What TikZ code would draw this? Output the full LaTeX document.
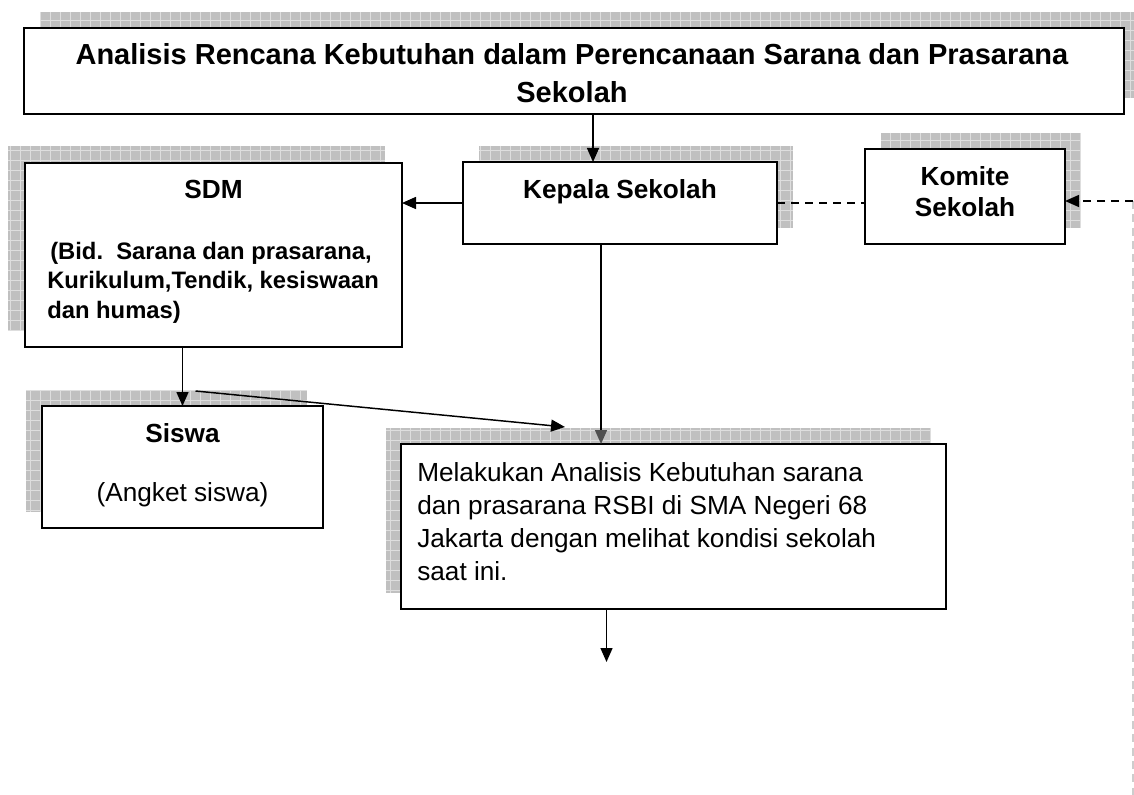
\documentclass[tikz,border=0pt]{standalone}
\usepackage{fontspec}
\setmainfont{Liberation Sans}
\usetikzlibrary{arrows.meta,calc}

\tikzset{
  kotak/.style={draw, fill=white, line width=1.1pt, inner sep=0pt, outer sep=0pt},
  bayangan/.style={fill={rgb, 255:red, 192; green, 192; blue, 192}},
  kisi/.style={draw={rgb, 255:red, 222; green, 222; blue, 222}, line width=0.45pt, step=7.5pt},
  teks/.style={inner sep=0pt, font=\fontsize{19.65}{23.25}\selectfont},
  tebal/.style={inner sep=0pt, font=\bfseries\fontsize{19.65}{23.25}\selectfont},
  panah/.style={line width=1.1pt, -{Triangle[length=10.5pt,width=9pt]}},
  panahabu/.style={line width=1.1pt, -{Triangle[length=10.5pt,width=9pt,color={rgb, 255:red, 80; green, 80; blue, 80}]}},
  putus/.style={line width=1.1pt, dash pattern=on 6pt off 4.5pt},
  putusabu/.style={line width=1.1pt, draw={rgb, 255:red, 205; green, 205; blue, 205}, dash pattern=on 6pt off 4pt},
}

\begin{document}
\begin{tikzpicture}[x=0.75pt,y=0.75pt,yscale=-1,xscale=1]
\clip (0,0) rectangle (1134,795);

%Shape: shadows behind the boxes
\foreach \xa/\ya/\xb/\yb in {40/12/1140/98, 479/146/793/228, 881/133/1081/228,
    8/146/385/330, 26/390/307/512, 386/428/931/593}{
  \fill[bayangan] (\xa,\ya) rectangle (\xb,\yb);
  \draw[kisi] (\xa,\yb) grid (\xb,\ya);
}

%Shape: Rectangle
\node[kotak, minimum width=825pt, minimum height=64.5pt] (judul) at (574,71) {};
\node[kotak, minimum width=235.5pt, minimum height=61.5pt] (kepala) at (620,203) {};
\node[kotak, minimum width=150pt, minimum height=71.25pt] (komite) at (965,196.5) {};
\node[kotak, minimum width=282.75pt, minimum height=138pt] (sdm) at (213.5,255) {};
\node[kotak, minimum width=210.75pt, minimum height=91.5pt] (siswa) at (182.5,467) {};
\node[kotak, minimum width=408.75pt, minimum height=123.75pt] (analisis) at (673.5,526.5) {};

% Text Node
\node[tebal, font=\bfseries\fontsize{21.75}{28.5}\selectfont, align=center, anchor=base] (judulTeks) at (572,103) {Analisis Rencana Kebutuhan dalam Perencanaan Sarana dan Prasarana\\Sekolah};
% Text Node
\node[tebal, anchor=base] (kepalaTeks) at (620,198) {Kepala Sekolah};
% Text Node
\node[tebal, align=center, anchor=base] (komiteTeks) at (965,216) {Komite\\Sekolah};
% Text Node
\node[tebal, anchor=base] (sdmJudul) at (213.5,198) {SDM};
\node[tebal, font=\bfseries\fontsize{17.85}{22.1}\selectfont, align=left, anchor=base west] (sdmTeks) at (47,318) {\hspace*{2.25pt}(Bid.\ \ Sarana dan prasarana,\\Kurikulum,Tendik, kesiswaan\\dan humas)};
% Text Node
\node[tebal, anchor=base] (siswaJudul) at (182.5,442) {Siswa};
\node[teks, anchor=base] (siswaTeks) at (182.5,501) {(Angket siswa)};
% Text Node
\node[teks, font=\fontsize{19.65}{24.75}\selectfont, align=left, anchor=base west] (analisisTeks) at (417,580) {Melakukan Analisis Kebutuhan sarana\\dan prasarana RSBI di SMA Negeri 68\\Jakarta dengan melihat kondisi sekolah\\saat ini.};

%Straight Lines
\coordinate (turun) at ($(kepala.south)+(-19,0)$);
\coordinate (tepiKanan) at (1133,201);
\coordinate (tepiBawah) at (1133,795);
\coordinate (akhir) at ($(analisis.south)+(-67,53)$);

\draw[panah] ($(judul.south)+(19,0)$) -- ($(kepala.north)+(-27,0)$);
\draw[panah] (kepala.west) -- (kepala.west -| sdm.east);
\draw[putus] (kepala.east) -- (kepala.east -| komite.west);
\draw[putusabu] (tepiKanan) -- (tepiBawah);
\draw[putus, panah] (tepiKanan) -- (tepiKanan -| komite.east);
\draw[panah] (siswa.north |- sdm.south) -- (siswa.north);
\draw[panah] ($(siswa.north)+(13,-15)$) -- ($(analisis.north)+(-108.5,-17)$);
\draw[panahabu] (turun) -- (turun |- analisis.north);
\draw[panah] (akhir |- analisis.south) -- (akhir);

\end{tikzpicture}
\end{document}
